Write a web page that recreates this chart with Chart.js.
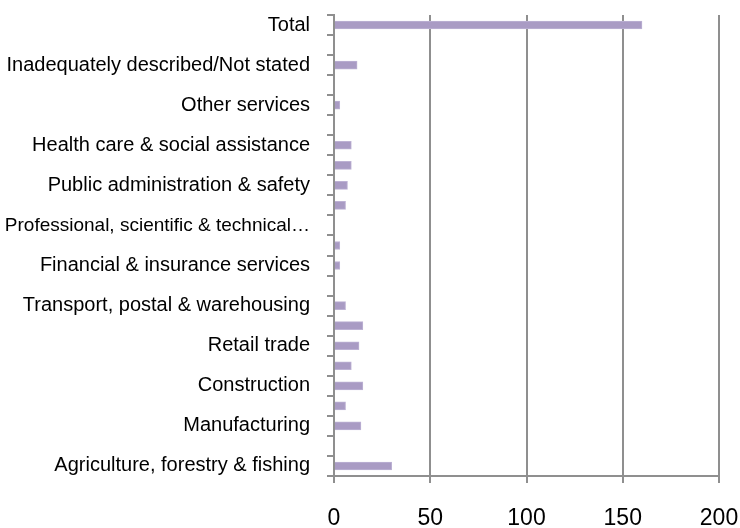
<!DOCTYPE html>
<html>
<head>
<meta charset="utf-8">
<script src="https://cdn.jsdelivr.net/npm/chart.js@4/dist/chart.umd.min.js"></script>
<style>
  body { margin: 0; background: #fff; }
</style>
</head>
<body>
<canvas id="myChart" width="740" height="528"></canvas>
<script>
// categories, bottom to top (odd rows have no visible label in the original)
var industries = [
  "Agriculture, forestry & fishing",
  "Mining",
  "Manufacturing",
  "Electricity, gas, water & waste services",
  "Construction",
  "Wholesale trade",
  "Retail trade",
  "Accommodation & food services",
  "Transport, postal & warehousing",
  "Information media & telecommunications",
  "Financial & insurance services",
  "Rental, hiring & real estate services",
  "Professional, scientific & technical…",
  "Administrative & support services",
  "Public administration & safety",
  "Education & training",
  "Health care & social assistance",
  "Arts & recreation services",
  "Other services",
  "Inadequately described",
  "Inadequately described/Not stated",
  "Not stated",
  "Total"
];
var persons = [30, 0, 14, 6, 15, 9, 13, 15, 6, 0, 3, 3, 0, 6, 7, 9, 9, 0, 3, 0, 12, 0, 160];
var xTicks = [0, 50, 100, 150, 200];

var gridGrey = "#8f8f8f";
var fontName = "'Liberation Sans', Arial, sans-serif";

var ctx = document.getElementById('myChart').getContext('2d');
var myChart = new Chart(ctx, {
  type: "bar",
  data: {
    labels: industries,
    datasets: [{
      data: persons,
      backgroundColor: "#a99bc4",
      borderColor: "#bdb2d4",
      borderWidth: 1,
      barThickness: 8
    }]
  },
  options: {
    indexAxis: "y",
    responsive: false,
    animation: false,
    layout: { padding: { top: 15, right: 0, bottom: 0, left: 0 } },
    plugins: {
      legend: { display: false },
      tooltip: { enabled: false }
    },
    scales: {
      x: {
        min: 0,
        max: 200,
        afterBuildTicks: function (axis) {
          axis.ticks = xTicks.map(function (v) { return { value: v }; });
        },
        afterFit: function (axis) {
          axis.height = 52;
          axis.paddingLeft = 0;
          axis.paddingRight = 21;
        },
        grid: { color: gridGrey, lineWidth: 2, tickLength: 7, drawTicks: true },
        border: { color: gridGrey, width: 2 },
        ticks: {
          color: "#000",
          font: { family: fontName, size: 23 },
          padding: 22,
          maxRotation: 0
        }
      },
      y: {
        reverse: true,
        afterFit: function (axis) {
          axis.width = 334;
          axis.paddingTop = 0;
          axis.paddingBottom = 0;
        },
        grid: {
          drawOnChartArea: false,
          drawTicks: true,
          tickLength: 7,
          color: gridGrey,
          lineWidth: 2,
          offset: true
        },
        border: { color: gridGrey, width: 2 },
        ticks: {
          autoSkip: false,
          color: "#000",
          // the long truncated label is a bit smaller so it fits
          font: function (c) {
            return { family: fontName, size: c.index === 12 ? 19 : 20 };
          },
          padding: 17,
          callback: function (val, i) {
            return i % 2 === 0 ? this.getLabelForValue(val) : "";
          }
        }
      }
    }
  }
});
</script>
</body>
</html>
